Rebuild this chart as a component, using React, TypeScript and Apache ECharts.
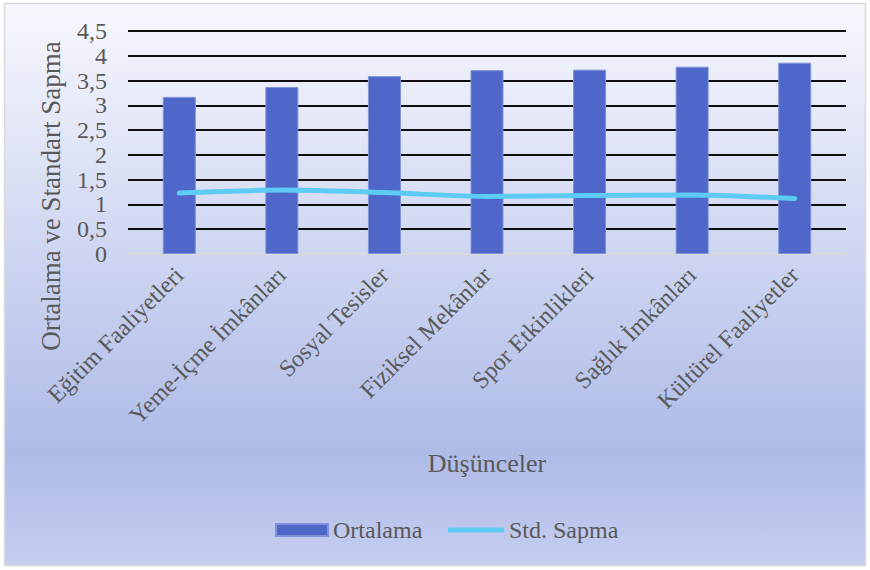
import React, { useEffect, useRef } from "react";
import * as echarts from "echarts";

const categories = [
  "Eğitim Faaliyetleri",
  "Yeme-İçme İmkânları",
  "Sosyal Tesisler",
  "Fiziksel Mekânlar",
  "Spor Etkinlikleri",
  "Sağlık İmkânları",
  "Kültürel Faaliyetler",
];
const ortalama = [3.17, 3.37, 3.59, 3.71, 3.72, 3.78, 3.86];
const stdSapma = [1.23, 1.29, 1.24, 1.16, 1.18, 1.19, 1.12];
const seriesNames = ["Ortalama", "Std. Sapma"];
const yTitle = "Ortalama ve Standart Sapma";
const xTitle = "Düşünceler";

const FONT = "Liberation Serif";
const TEXT = "#595959";
const BAR = "#4F67C9";
const LINE = "#5ECBF3";

export default function App() {
  const ref = useRef<HTMLDivElement>(null);
  useEffect(() => {
    document.body.style.margin = "0";
    const chart = echarts.init(ref.current!, null, { renderer: "svg" });
    chart.setOption({
      animation: false,
      backgroundColor: "#ffffff",
      textStyle: { fontFamily: FONT },
      grid: { left: 128, right: 24, top: 31, bottom: 316, containLabel: false },
      graphic: [
        {
          type: "rect",
          z: -10,
          silent: true,
          shape: { x: 4.5, y: 3.5, width: 861, height: 562 },
          style: {
            stroke: "#D9D9D9",
            lineWidth: 1.5,
            fill: new echarts.graphic.LinearGradient(0, 0, 0, 1, [
              { offset: 0, color: "#F7F8FD" },
              { offset: 0.45, color: "#CED5F1" },
              { offset: 0.8, color: "#AEBBE7" },
              { offset: 1, color: "#C5CDF0" },
            ]),
          },
        },
        {
          type: "text",
          x: 51,
          y: 196,
          rotation: Math.PI / 2,
          style: {
            text: yTitle,
            fontFamily: FONT,
            fontSize: 27,
            fill: TEXT,
            align: "center",
            verticalAlign: "middle",
          },
        },
        {
          type: "text",
          x: 487,
          y: 463,
          style: {
            text: xTitle,
            fontFamily: FONT,
            fontSize: 26,
            fill: TEXT,
            align: "center",
            verticalAlign: "middle",
          },
        },
      ],
      legend: [
        {
          left: 275,
          top: 518,
          padding: 0,
          itemWidth: 52,
          itemHeight: 12,
          itemGap: 5,
          icon: "rect",
          textStyle: { fontFamily: FONT, fontSize: 24, color: TEXT },
          data: [seriesNames[0]],
        },
        {
          left: 448,
          top: 518,
          padding: 0,
          itemWidth: 56,
          itemHeight: 5,
          icon: "roundRect",
          textStyle: { fontFamily: FONT, fontSize: 24, color: TEXT },
          data: [seriesNames[1]],
        },
      ],
      xAxis: {
        type: "category",
        data: categories,
        axisTick: { show: false },
        axisLine: { lineStyle: { color: "#D9D9D9", width: 1 } },
        axisLabel: {
          rotate: 45,
          interval: 0,
          margin: 17,
          fontFamily: FONT,
          fontSize: 24,
          color: TEXT,
        },
      },
      yAxis: {
        type: "value",
        min: 0,
        max: 4.5,
        interval: 0.5,
        axisLine: { show: false },
        axisTick: { show: false },
        axisLabel: {
          margin: 21,
          fontFamily: FONT,
          fontSize: 24,
          color: TEXT,
          formatter: (v: number) => String(v).replace(".", ","),
        },
        splitLine: {
          lineStyle: {
            width: 2,
            color: ["#D9D9D9", "#0D0D0D", "#0D0D0D", "#0D0D0D", "#0D0D0D", "#0D0D0D", "#0D0D0D", "#0D0D0D", "#0D0D0D", "#0D0D0D"],
          },
        },
      },
      series: [
        {
          name: seriesNames[0],
          type: "bar",
          data: ortalama,
          barWidth: 33,
          itemStyle: { color: BAR, borderColor: "#7F92DB", borderWidth: 1 },
        },
        {
          name: seriesNames[1],
          type: "line",
          data: stdSapma,
          smooth: 0.25,
          symbol: "none",
          lineStyle: { color: LINE, width: 5, cap: "round" },
          itemStyle: { color: LINE },
        },
      ],
    });
    return () => chart.dispose();
  }, []);
  return <div ref={ref} style={{ width: 870, height: 570 }} />;
}
